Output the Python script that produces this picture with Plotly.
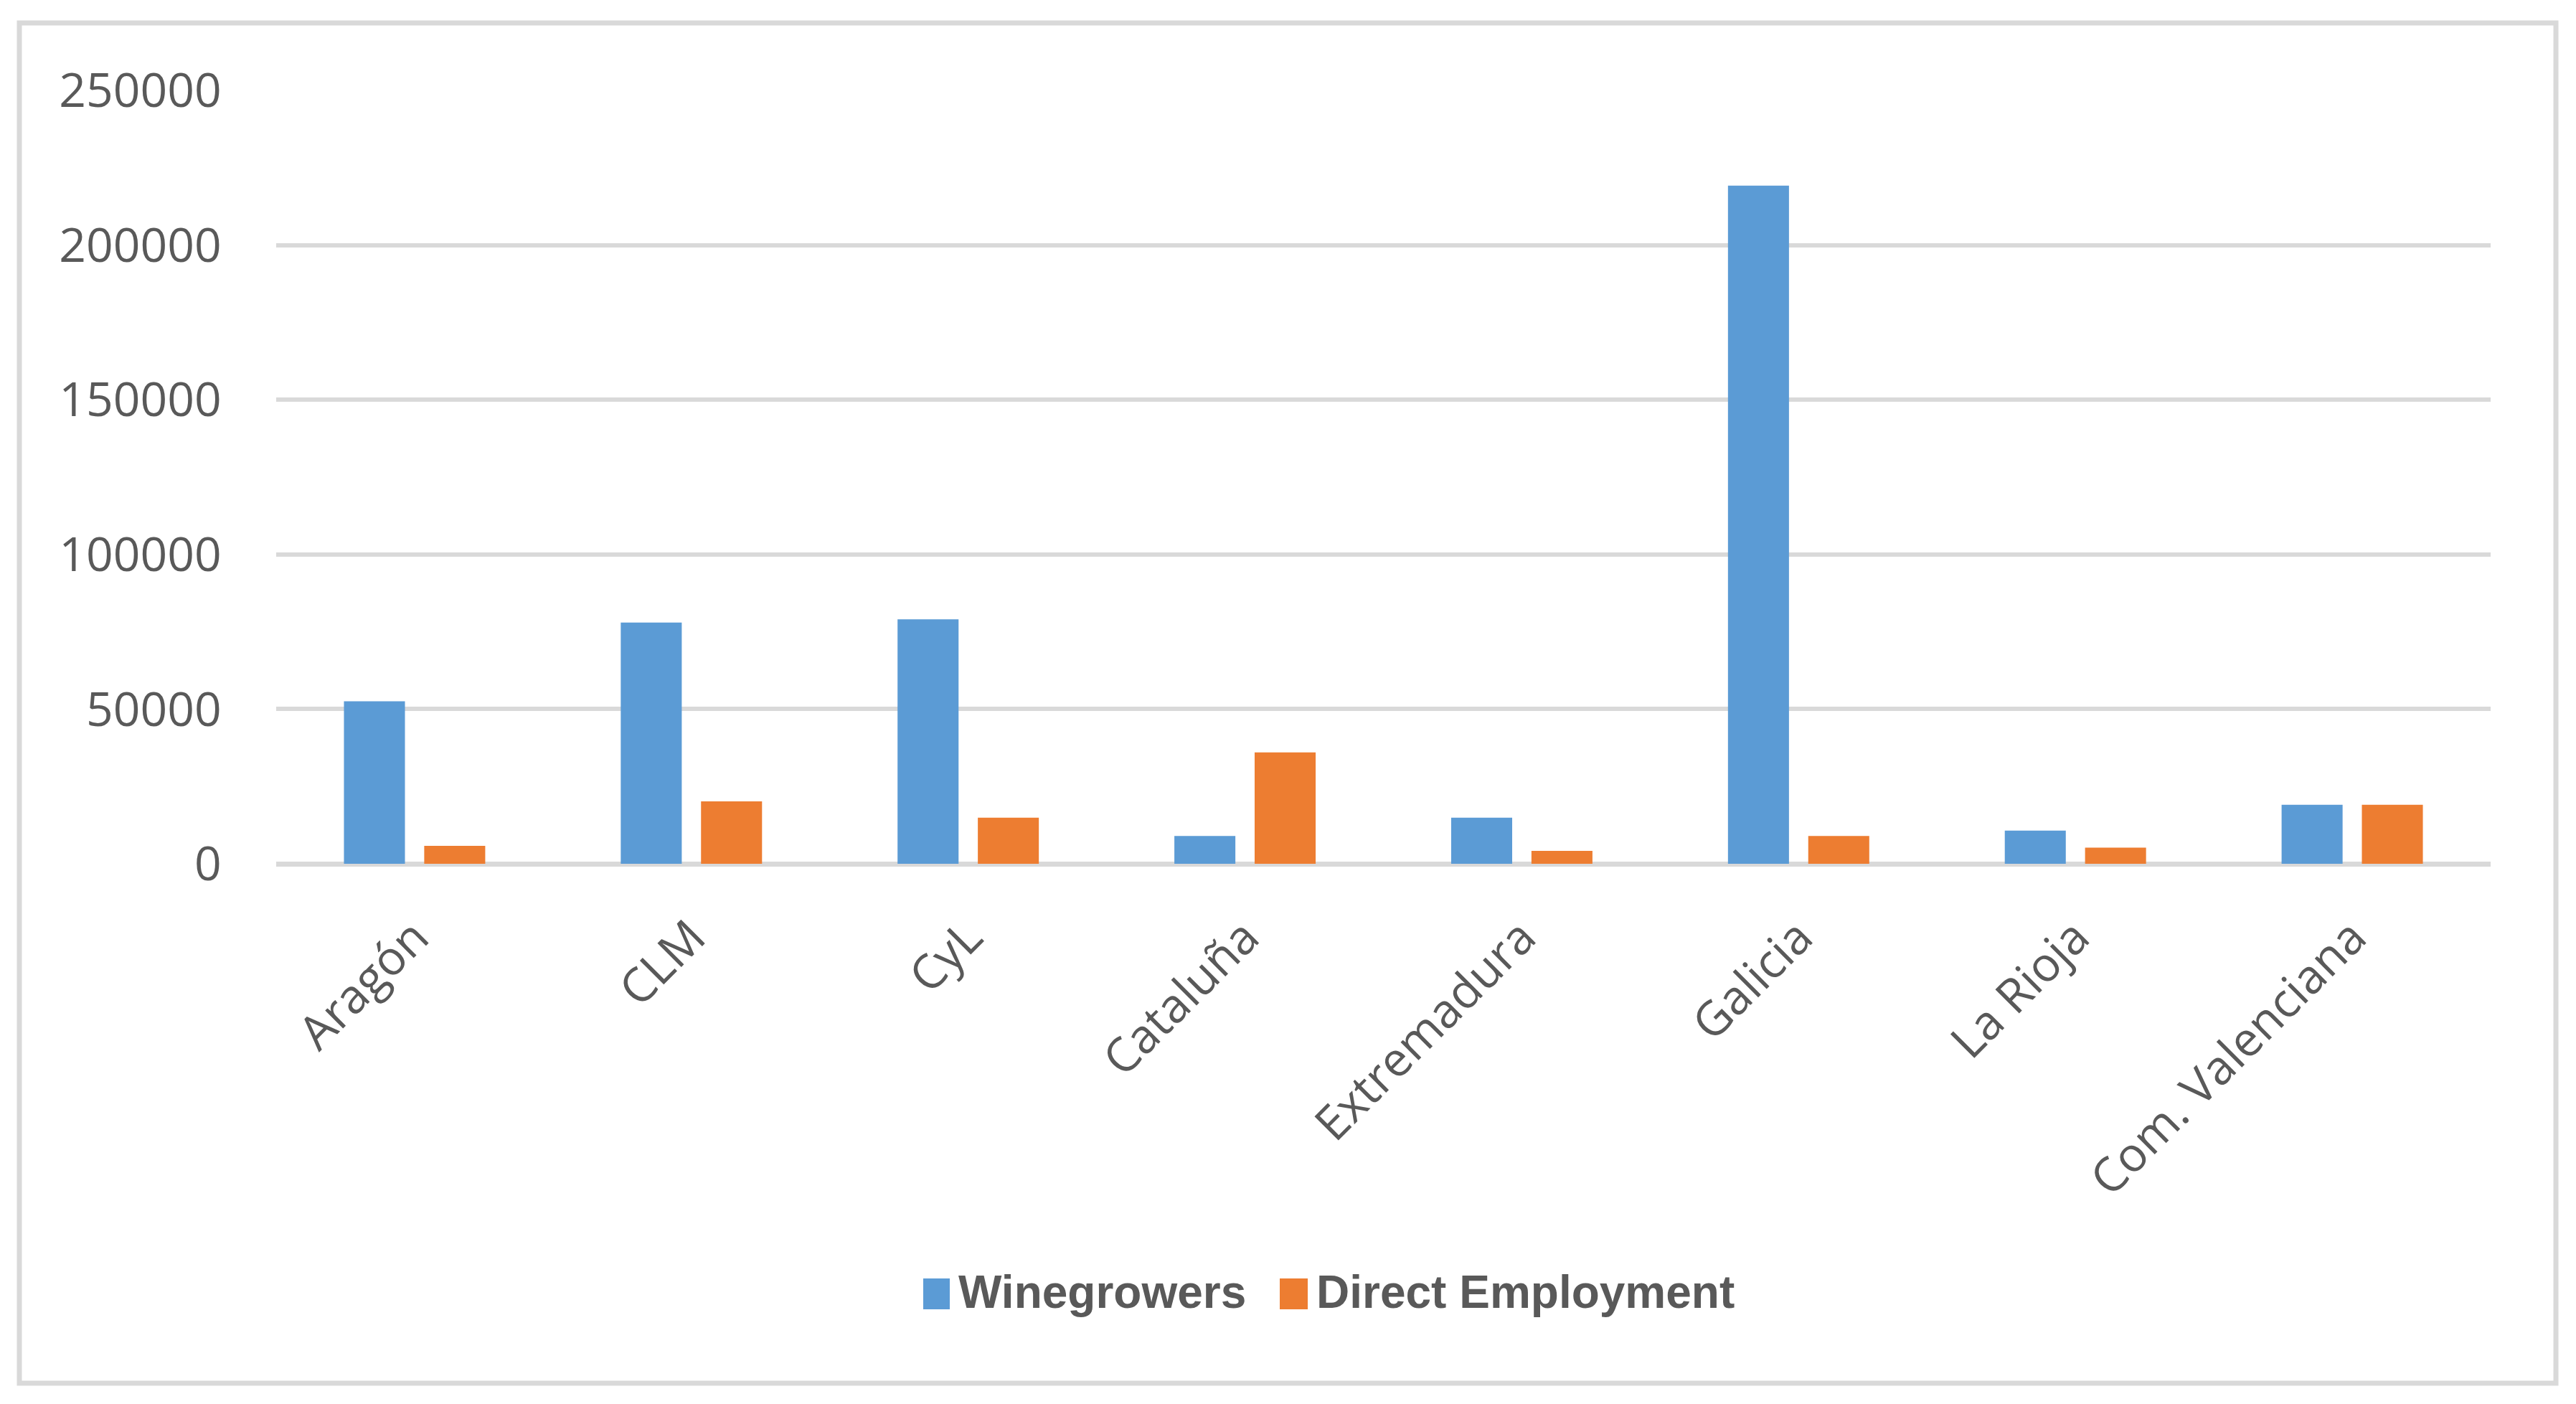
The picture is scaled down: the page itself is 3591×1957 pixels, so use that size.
import plotly.graph_objects as go

regions = ["Aragón", "CLM", "CyL", "Cataluña", "Extremadura", "Galicia", "La Rioja", "Com. Valenciana"]
winegrowers = [52500, 78000, 79000, 9000, 14900, 219200, 10700, 19100]
direct_employment = [5800, 20200, 14900, 36000, 4200, 9000, 5200, 19100]
y_ticks = [0, 50000, 100000, 150000, 200000, 250000]

BLUE = "#5B9BD5"
ORANGE = "#ED7D31"
TXT = "#595959"
GRID = "#D9D9D9"

W, H = 3591, 1957
L, R, T, B = 385, 119, 126, 753
PW, PH = W - L - R, H - T - B

def px(x):
    return (x - L) / PW

def py(y):
    return (H - B - y) / PH

fig = go.Figure()
fig.add_trace(go.Bar(name="Winegrowers", x=regions, y=winegrowers, marker_color=BLUE, marker_line_width=0))
fig.add_trace(go.Bar(name="Direct Employment", x=regions, y=direct_employment, marker_color=ORANGE, marker_line_width=0))

fig.update_layout(
    width=W, height=H,
    margin=dict(l=L, r=R, t=T, b=B, autoexpand=False),
    paper_bgcolor="white", plot_bgcolor="white",
    barmode="group", bargap=0.42, bargroupgap=0.24,
    showlegend=False,
    font=dict(family="Open Sans", color=TXT, size=66),
)
fig.update_yaxes(
    range=[0, 250000], tickvals=y_ticks, ticktext=[str(v) for v in y_ticks],
    showgrid=True, gridcolor=GRID, gridwidth=6,
    zeroline=True, zerolinecolor=GRID, zerolinewidth=7,
    showline=False, ticks="outside", ticklen=62, tickcolor="rgba(0,0,0,0)",
    tickfont=dict(family="Open Sans", size=66, color=TXT),
)
fig.update_xaxes(
    tickangle=-45, showgrid=False, showline=False, zeroline=False,
    ticks="outside", ticklen=36, tickcolor="rgba(0,0,0,0)",
    tickfont=dict(family="Open Sans", size=66, color=TXT),
)

shapes = [
    dict(type="rect", xref="paper", yref="paper",
         x0=px(27), x1=px(3563), y0=py(1928), y1=py(32),
         line=dict(color=GRID, width=7), fillcolor="rgba(0,0,0,0)", layer="below"),
    dict(type="rect", xref="paper", yref="paper",
         x0=px(1287), x1=px(1324), y0=py(1825), y1=py(1782),
         line=dict(width=0), fillcolor=BLUE),
    dict(type="rect", xref="paper", yref="paper",
         x0=px(1784), x1=px(1823), y0=py(1825), y1=py(1782),
         line=dict(width=0), fillcolor=ORANGE),
]
annotations = [
    dict(text="<b>Winegrowers</b>", xref="paper", yref="paper", x=px(1334), y=py(1801),
         xanchor="left", yanchor="middle", showarrow=False,
         font=dict(family="Liberation Sans", size=64, color=TXT)),
    dict(text="<b>Direct Employment</b>", xref="paper", yref="paper", x=px(1833), y=py(1801),
         xanchor="left", yanchor="middle", showarrow=False,
         font=dict(family="Liberation Sans", size=64, color=TXT)),
]
fig.update_layout(shapes=shapes, annotations=annotations)

fig.write_html(
    "out.html",
    config={"displayModeBar": False},
    post_script="document.body.style.margin='0px';document.body.style.overflow='hidden';",
)
